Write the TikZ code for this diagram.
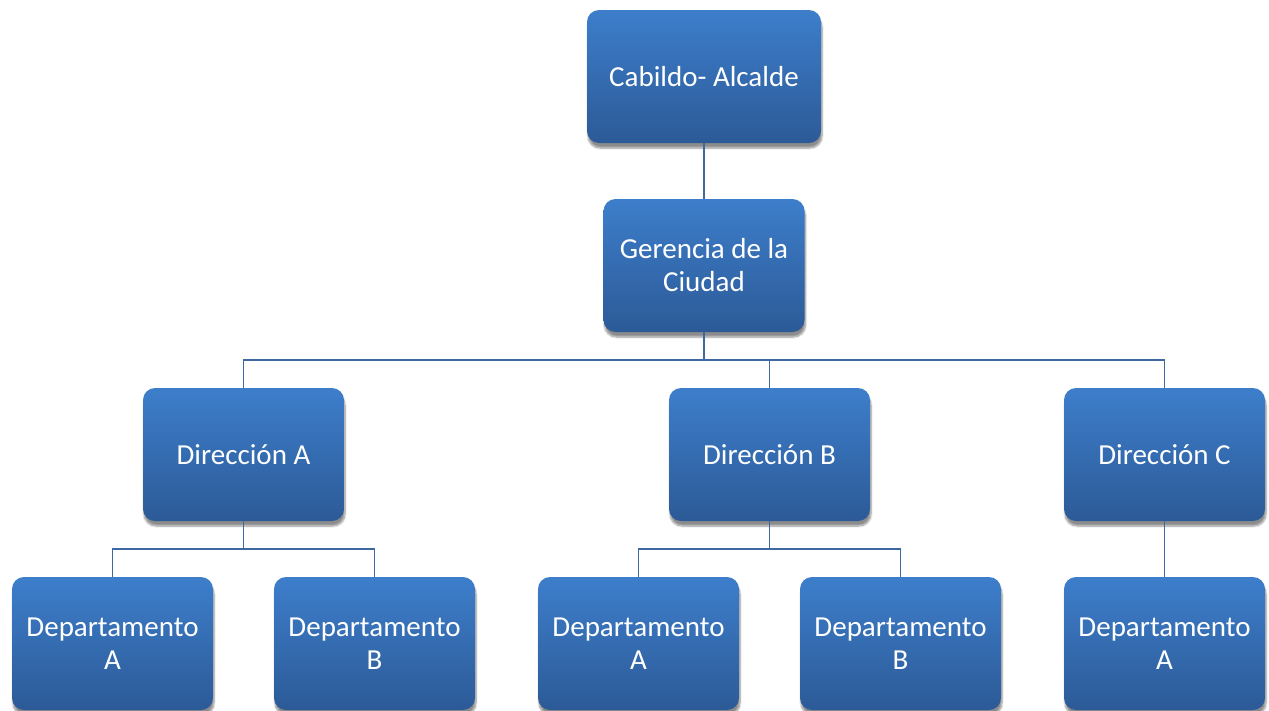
\documentclass[tikz,border=0pt]{standalone}
\usepackage{fontspec}
\setmainfont{Carlito}
\usetikzlibrary{shadows.blur}

\definecolor{boxtop}{HTML}{3D7ECB}
\definecolor{boxbot}{HTML}{2C5A97}
\definecolor{linkcol}{HTML}{3E68A0}

\begin{document}
\begin{tikzpicture}[x=1pt, y=-1pt,
	orgbox/.style={rounded corners=12pt, top color=boxtop, bottom color=boxbot,
		draw=none, text=white, align=center, font=\fontsize{29}{33}\selectfont,
		minimum width=201pt, minimum height=133pt, inner sep=0pt,
		blur shadow={shadow xshift=1pt, shadow yshift=-5pt, shadow blur steps=6, shadow opacity=45}},
	link/.style={draw=linkcol, line width=1.5pt}]
			\useasboundingbox (0,0) rectangle (1269,710);
			%\draw[help lines] (0,0) grid (1269,710);
			
			\node[orgbox, minimum width=234pt] (cab) at (704,76.5) {Cabildo- Alcalde};
			\node[orgbox] (ger) at (704,265.5) {Gerencia de la\\Ciudad};
			
			\node[orgbox] (dirA) at (243.5,454.5) {Dirección A};
			\node[orgbox] (dirB) at (769.5,454.5) {Dirección B};
			\node[orgbox] (dirC) at (1164.5,454.5) {Dirección C};
			
			\node[orgbox] (depAA) at (112.5,643.5) {Departamento\\A};
			\node[orgbox] (depAB) at (374.5,643.5) {Departamento\\B};
			\node[orgbox] (depBA) at (638.5,643.5) {Departamento\\A};
			\node[orgbox] (depBB) at (900.5,643.5) {Departamento\\B};
			\node[orgbox] (depCA) at (1164.5,643.5) {Departamento\\A};
			
			\draw[link] (cab.south) -- (ger.north);
			\draw[link] (ger.south) -- ++(0,28) -| (dirA.north);
			\draw[link] (ger.south) -- ++(0,28) -| (dirB.north);
			\draw[link] (ger.south) -- ++(0,28) -| (dirC.north);
			\draw[link] (dirA.south) -- ++(0,28) -| (depAA.north);
			\draw[link] (dirA.south) -- ++(0,28) -| (depAB.north);
			\draw[link] (dirB.south) -- ++(0,28) -| (depBA.north);
			\draw[link] (dirB.south) -- ++(0,28) -| (depBB.north);
			\draw[link] (dirC.south) -- (depCA.north);
\end{tikzpicture}
\end{document}
